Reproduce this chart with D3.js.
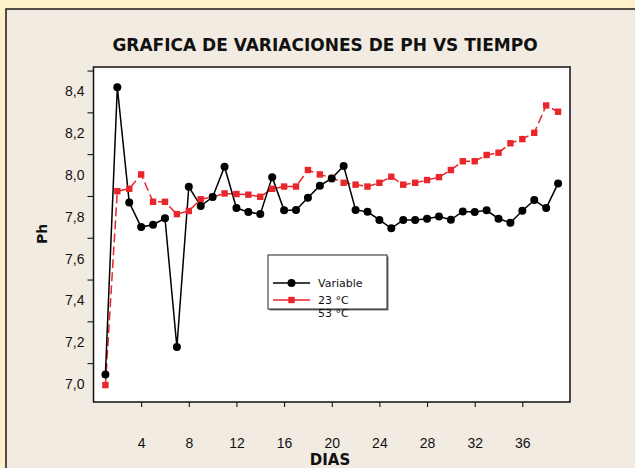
<!DOCTYPE html>
<html>
<head>
<meta charset="utf-8">
<script src="https://cdn.jsdelivr.net/npm/d3@7"></script>
<style>
    body { margin: 0; background: #fef0c8; }
    svg { display: block; font-family: "DejaVu Sans", Verdana, sans-serif; }
</style>
</head>
<body>
<div id="chart"></div>
<script>
// pH readings per day
const days = d3.range(1, 40);
const variableValues = [
    7.046, 8.42, 7.869, 7.751, 7.762, 7.793, 7.177, 7.944, 7.852, 7.895,
    8.040, 7.842, 7.823, 7.813, 7.990, 7.831, 7.833, 7.891, 7.949, 7.984,
    8.043, 7.833, 7.824, 7.785, 7.745, 7.785, 7.785, 7.791, 7.802, 7.786,
    7.826, 7.823, 7.831, 7.791, 7.772, 7.829, 7.880, 7.842, 7.960
];
const temp23Values = [
    6.995, 7.923, 7.934, 8.003, 7.872, 7.872, 7.813, 7.828, 7.884, 7.895,
    7.912, 7.909, 7.906, 7.896, 7.934, 7.945, 7.945, 8.024, 8.003, 7.986,
    7.963, 7.954, 7.945, 7.963, 7.992, 7.954, 7.963, 7.976, 7.990, 8.024,
    8.066, 8.066, 8.096, 8.107, 8.152, 8.172, 8.202, 8.333, 8.303
];
const xTicks = [4, 8, 12, 16, 20, 24, 28, 32, 36];
const yLabels = [7.0, 7.2, 7.4, 7.6, 7.8, 8.0, 8.2, 8.4];
// the tick marks sit half a step above the labels in the original
const yTickMarks = [7.1, 7.3, 7.5, 7.7, 7.9, 8.1, 8.3, 8.5];
const legendItems = ["Variable", "23 °C", "53 °C"];

const width = 635, height = 468;
const plot = { left: 93.5, right: 570, top: 67, bottom: 402 };

const svg = d3.select("#chart").append("svg")
    .attr("width", width)
    .attr("height", height);

// background panel
svg.append("rect")
    .attr("x", 6).attr("y", 9)
    .attr("width", 660).attr("height", 480)
    .attr("fill", "#f2ebe1")
    .attr("stroke", "#1a1a1a")
    .attr("stroke-width", 1.5);

const x = d3.scaleLinear().domain([0, 40]).range([plot.left, plot.right]);
const y = d3.scaleLinear().domain([6.914, 8.517]).range([plot.bottom, plot.top]);

svg.append("rect")
    .attr("x", plot.left).attr("y", plot.top)
    .attr("width", plot.right - plot.left)
    .attr("height", plot.bottom - plot.top)
    .attr("fill", "#fff");

// title
svg.append("text")
    .attr("x", 325).attr("y", 51)
    .attr("text-anchor", "middle")
    .attr("font-weight", "bold")
    .attr("font-size", 17)
    .attr("fill", "#111")
    .text("GRAFICA DE VARIACIONES DE PH VS TIEMPO");

// x axis
const xAxis = svg.append("g")
    .attr("transform", `translate(0,${plot.bottom})`)
    .call(d3.axisBottom(x).tickValues(xTicks).tickSize(5).tickPadding(31));
xAxis.select(".domain").remove();
xAxis.selectAll("text").attr("font-size", 14).attr("font-family", null).attr("fill", "#111");

// y axis: tick marks and labels drawn separately
const yMarks = svg.append("g")
    .attr("transform", `translate(${plot.left},0)`)
    .call(d3.axisLeft(y).tickValues(yTickMarks).tickSize(6).tickFormat(""));
yMarks.select(".domain").remove();

const yText = svg.append("g")
    .attr("transform", `translate(${plot.left},0)`)
    .call(d3.axisLeft(y).tickValues(yLabels).tickSize(0).tickPadding(9)
        .tickFormat((d) => d3.format(".1f")(d).replace(".", ",")));
yText.select(".domain").remove();
yText.selectAll("text").attr("font-size", 14).attr("font-family", null).attr("fill", "#111");

// plot frame
svg.append("rect")
    .attr("x", plot.left).attr("y", plot.top)
    .attr("width", plot.right - plot.left)
    .attr("height", plot.bottom - plot.top)
    .attr("fill", "none")
    .attr("stroke", "#111")
    .attr("stroke-width", 1.5);

// axis titles
svg.append("text")
    .attr("x", 330).attr("y", 464.5)
    .attr("text-anchor", "middle")
    .attr("font-weight", "bold")
    .attr("font-size", 15)
    .attr("fill", "#111")
    .text("DIAS");

svg.append("text")
    .attr("transform", "translate(47,234) rotate(-90)")
    .attr("text-anchor", "middle")
    .attr("font-weight", "bold")
    .attr("font-size", 14)
    .attr("fill", "#111")
    .text("Ph");

// series
const line = d3.line().x((d) => x(d[0])).y((d) => y(d[1]));
const blackData = days.map((d, i) => [d, variableValues[i]]);
const redData = days.map((d, i) => [d, temp23Values[i]]);
const red = "#e8262b";

svg.append("path")
    .datum(redData)
    .attr("d", line)
    .attr("fill", "none")
    .attr("stroke", red)
    .attr("stroke-width", 1.5)
    .attr("stroke-dasharray", "9,4");

svg.append("path")
    .datum(blackData)
    .attr("d", line)
    .attr("fill", "none")
    .attr("stroke", "#000")
    .attr("stroke-width", 1.5);

svg.append("g").selectAll("rect")
    .data(redData)
    .join("rect")
    .attr("x", (d) => x(d[0]) - 3.2)
    .attr("y", (d) => y(d[1]) - 3.2)
    .attr("width", 6.4).attr("height", 6.4)
    .attr("fill", red);

svg.append("g").selectAll("circle")
    .data(blackData)
    .join("circle")
    .attr("cx", (d) => x(d[0]))
    .attr("cy", (d) => y(d[1]))
    .attr("r", 4)
    .attr("fill", "#000");

// legend
const legend = svg.append("g").attr("transform", "translate(268,255)");
legend.append("rect")
    .attr("x", 1.5).attr("y", 1.5)
    .attr("width", 119).attr("height", 54)
    .attr("fill", "#777");
legend.append("rect")
    .attr("width", 119).attr("height", 54)
    .attr("fill", "#fff")
    .attr("stroke", "#222")
    .attr("stroke-width", 1);

const rowY = [28, 45, 58.5];
legend.append("line")
    .attr("x1", 5).attr("x2", 42).attr("y1", rowY[0]).attr("y2", rowY[0])
    .attr("stroke", "#000").attr("stroke-width", 1.5);
legend.append("circle")
    .attr("cx", 23.5).attr("cy", rowY[0]).attr("r", 4).attr("fill", "#000");
legend.append("line")
    .attr("x1", 5).attr("x2", 42).attr("y1", rowY[1]).attr("y2", rowY[1])
    .attr("stroke", red).attr("stroke-width", 1.5);
legend.append("rect")
    .attr("x", 20.3).attr("y", rowY[1] - 3.2)
    .attr("width", 6.4).attr("height", 6.4).attr("fill", red);

legend.selectAll("text.item")
    .data(legendItems)
    .join("text")
    .attr("class", "item")
    .attr("x", 50)
    .attr("y", (d, i) => rowY[i])
    .attr("dy", "0.35em")
    .attr("font-size", 11)
    .attr("fill", "#111")
    .text((d) => d);
</script>
</body>
</html>
